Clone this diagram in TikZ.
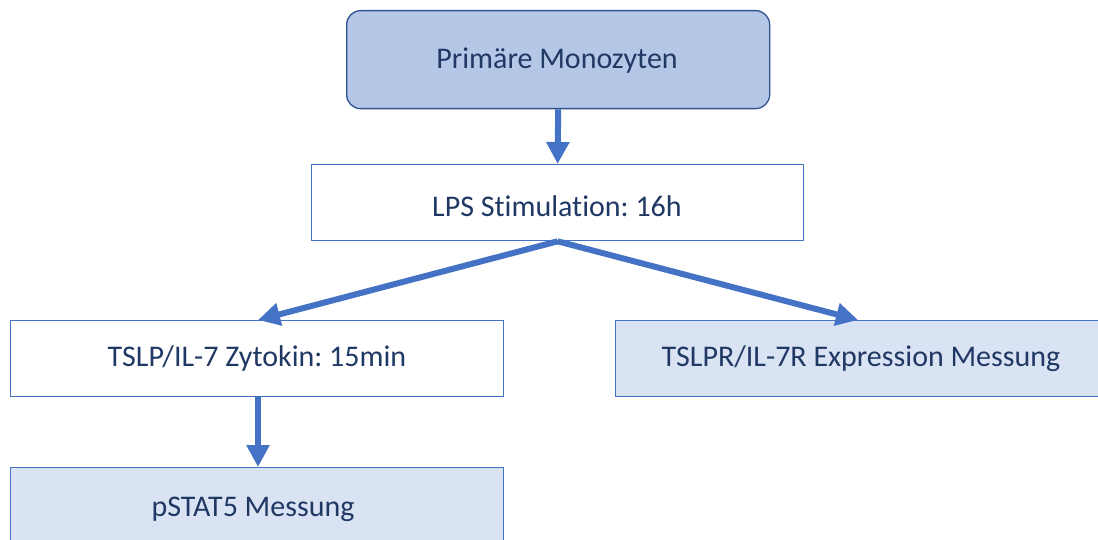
\documentclass[tikz,border=0pt]{standalone}
\usepackage{fontspec}
\setmainfont{Carlito}[Ligatures=NoCommon]
\frenchspacing
\usetikzlibrary{arrows.meta}
\definecolor{txt}{HTML}{203864}
\definecolor{topfill}{HTML}{B4C7E7}
\definecolor{topdraw}{HTML}{2F528F}
\definecolor{boxdraw}{HTML}{4472C4}
\definecolor{lightfill}{HTML}{DAE3F3}
\definecolor{arrowc}{HTML}{4472C4}
\tikzset{
  lbl/.style={text=txt, font=\fontsize{30}{36}\selectfont\frenchspacing, inner sep=0pt},
  base/.style={draw=boxdraw, line width=1.3pt, lbl, anchor=north west},
  topbox/.style={base, draw=topdraw, fill=topfill, rounded corners=14pt},
  whitebox/.style={base, fill=white},
  lightbox/.style={base, fill=lightfill},
  flow/.style={draw=arrowc, line width=6pt, -{Triangle[width=22pt,length=22pt]}}
}
\begin{document}
\begin{tikzpicture}[x=1pt,y=-1pt]
\useasboundingbox (0,0) rectangle (1098,540);
\clip (0,0) rectangle (1098,540);
\node[topbox, minimum width=423pt, minimum height=98pt] (mono) at (346,10) {};
\node[lbl] (monotxt) at (557,61) {Primäre Monozyten};
\node[whitebox, minimum width=492pt, minimum height=76pt] (lps) at (311,164) {};
\node[lbl] (lpstxt) at (557,206) {LPS Stimulation: 16h};
\node[whitebox, minimum width=493pt, minimum height=76pt] (tslp) at (10,320) {};
\node[lbl] (tslptxt) at (257,359) {TSLP/IL-7 Zytokin: 15min};
\node[lightbox, minimum width=510pt, minimum height=76pt] (tslpr) at (615,320) {};
\node[lbl] (tslprtxt) at (861,359) {TSLPR/IL-7R Expression Messung};
\node[lightbox, minimum width=493pt, minimum height=100pt] (pstat) at (10,467) {};
\node[lbl] (pstattxt) at (253,509) {pSTAT5 Messung};
\coordinate (tslpin) at (258,320);
\coordinate (tslprin) at (858,320);
\coordinate (pstatin) at (258,467);
\draw[flow] (mono.south) -- (lps.north);
\draw[flow] (lps.south) -- (tslpin);
\draw[flow] (lps.south) -- (tslprin);
\draw[flow] (tslp.south -| pstatin) -- (pstatin);
\end{tikzpicture}
\end{document}
